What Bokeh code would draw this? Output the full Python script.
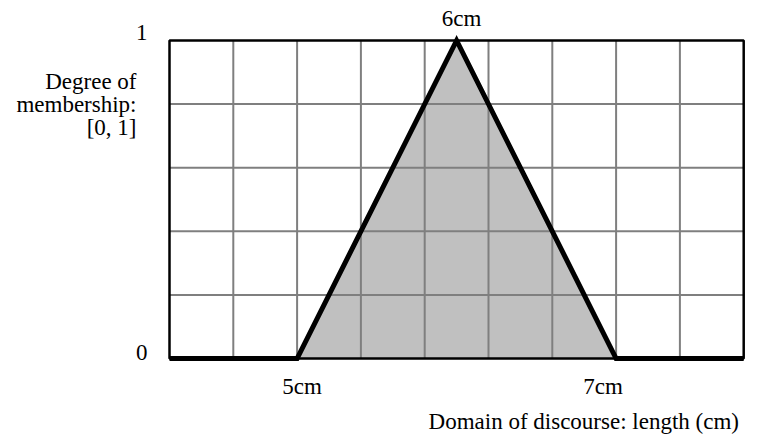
from bokeh.plotting import figure
from bokeh.models import Range1d
from bokeh.core.properties import value
from bokeh.embed import file_html
from bokeh.resources import INLINE

# ---- data ----
domain_x = [4.2, 5.0, 6.0, 7.0, 7.8]
membership = [0.0, 0.0, 1.0, 0.0, 0.0]
grid_x = [4.6, 5.0, 5.4, 5.8, 6.2, 6.6, 7.0, 7.4]
grid_y = [0.2, 0.4, 0.6, 0.8]
x_min, x_max = 4.2, 7.8
y_min, y_max = 0.0, 1.0
x_tick_vals = [5, 6, 7]
x_tick_labels = ["5cm", "6cm", "7cm"]
y_tick_vals = [0, 1]
y_tick_labels = ["0", "1"]
y_title_lines = ["Degree of", "membership:", "[0, 1]"]
x_title = "Domain of discourse:  length (cm)"

# ---- layout ----
W, H = 757, 448
SX = 159.5   # px per cm
SY = 318.0   # px per membership unit
LEFT_PX = 169
TOP_PX = 40
x0 = x_min - LEFT_PX / SX
x1 = x_min + (W - LEFT_PX) / SX
zero_px = TOP_PX + SY
y0 = y_min - (H - zero_px) / SY
y1 = y_max + TOP_PX / SY
DY = -8  # baseline correction

p = figure(width=W, height=H, x_range=Range1d(x0, x1), y_range=Range1d(y0, y1),
           output_backend="svg", toolbar_location=None, min_border=0,
           x_axis_type=None, y_axis_type=None, outline_line_color=None)
p.xgrid.visible = False
p.ygrid.visible = False

FONT = value("Liberation Serif")
FS = value("23px")

# fill under membership function
p.patch(domain_x, membership, fill_color="#c0c0c0", line_color=None)

# grid
p.segment(x0=grid_x, y0=[y_min] * len(grid_x), x1=grid_x, y1=[y_max] * len(grid_x),
          line_color="#7f7f7f", line_width=2)
p.segment(x0=[x_min] * len(grid_y), y0=grid_y, x1=[x_max] * len(grid_y), y1=grid_y,
          line_color="#7f7f7f", line_width=2)

# border
p.quad(left=[x_min], right=[x_max], bottom=[y_min], top=[y_max],
       fill_color=None, line_color="black", line_width=2.5)

# membership function
p.line(domain_x, membership, line_color="black", line_width=5, line_join="miter")

# x tick labels
p.text(x=[x_tick_vals[0]], y=[y_min], text=[x_tick_labels[0]], x_offset=5, y_offset=36 + DY,
       text_align="center", text_baseline="alphabetic", text_font=FONT, text_font_size=FS)
p.text(x=[x_tick_vals[1]], y=[y_max], text=[x_tick_labels[1]], x_offset=5, y_offset=-14 + DY,
       text_align="center", text_baseline="alphabetic", text_font=FONT, text_font_size=FS)
p.text(x=[x_tick_vals[2]], y=[y_min], text=[x_tick_labels[2]], x_offset=-13, y_offset=36 + DY,
       text_align="center", text_baseline="alphabetic", text_font=FONT, text_font_size=FS)

# y tick labels
p.text(x=[x_min] * 2, y=y_tick_vals, text=y_tick_labels, x_offset=-22,
       y_offset=[2 + DY, 0 + DY],
       text_align="right", text_baseline="alphabetic", text_font=FONT, text_font_size=FS)

# y title
p.text(x=[x_min] * 3, y=[y_max] * 3, text=y_title_lines, x_offset=-33,
       y_offset=[49 + DY, 72 + DY, 95 + DY],
       text_align="right", text_baseline="alphabetic", text_font=FONT, text_font_size=FS)

# x title
p.text(x=[x_max], y=[y_min], text=[x_title], x_offset=1, y_offset=71 + DY,
       text_align="right", text_baseline="alphabetic", text_font=FONT, text_font_size=FS)

open("out.html", "w").write(file_html(p, INLINE))
